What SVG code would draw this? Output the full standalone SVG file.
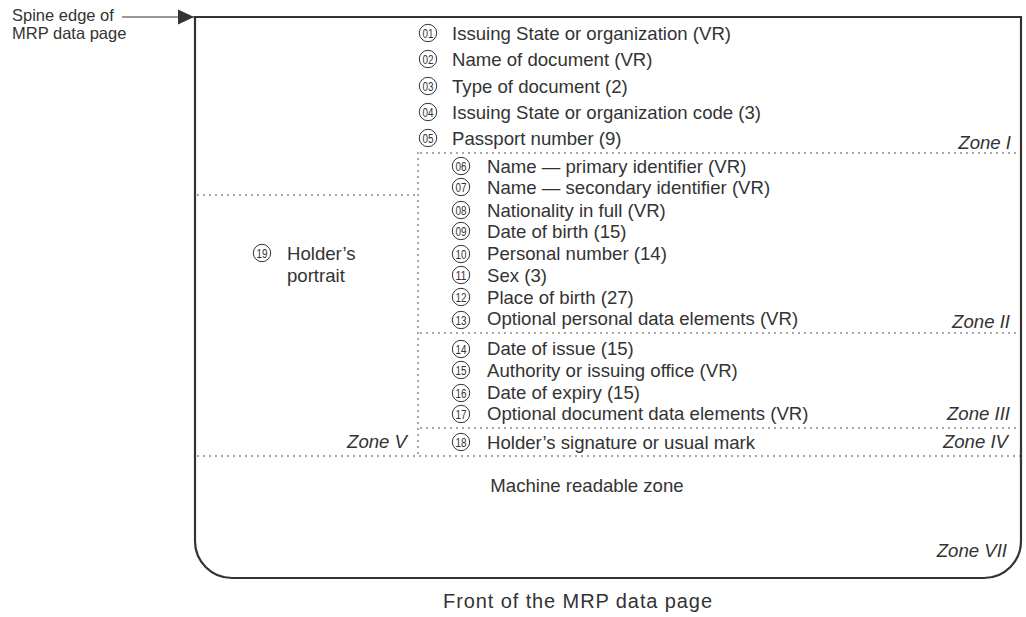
<svg xmlns="http://www.w3.org/2000/svg" width="1026" height="617" viewBox="0 0 1026 617">
<style>
.t{font-family:"Liberation Sans",Arial,sans-serif;font-size:18.6px;fill:#333}
.s{font-family:"Liberation Sans",Arial,sans-serif;font-size:16.5px;fill:#333}
.z{font-family:"Liberation Sans",Arial,sans-serif;font-size:18.6px;font-style:italic;fill:#333;text-anchor:end}
.n{font-family:"Liberation Sans",Arial,sans-serif;font-size:12.5px;fill:#333;text-anchor:middle}
.c{fill:none;stroke:#333;stroke-width:1}
.d{fill:none;stroke:#333;stroke-width:1.6;stroke-dasharray:0 6;stroke-linecap:round}
</style>
<defs>
<marker id="ah" markerWidth="16" markerHeight="16" refX="16" refY="8" orient="auto" markerUnits="userSpaceOnUse">
<polygon points="0,0.5 16,8 0,15.5" fill="#333"/>
</marker>
</defs>
<g id="page">
<path d="M195,17 H1021 V541 A37,37 0 0 1 984,578 H232 A37,37 0 0 1 195,541 Z" fill="#fff" stroke="#333" stroke-width="2.2"/>
</g>
<g id="spine-label">
<text class="s" x="12" y="20.5">Spine edge of</text>
<text class="s" x="12" y="39">MRP data page</text>
</g>
<g id="connectors">
<line x1="122" y1="17" x2="194" y2="17" stroke="#333" stroke-width="1.2" marker-end="url(#ah)"/>
</g>
<g id="zones">
<line class="d" x1="421" y1="153" x2="1021" y2="153"/>
<line class="d" x1="418" y1="153" x2="418" y2="456"/>
<line class="d" x1="198" y1="195" x2="415" y2="195"/>
<line class="d" x1="421" y1="333" x2="1021" y2="333"/>
<line class="d" x1="421" y1="428" x2="1021" y2="428"/>
<line class="d" x1="198" y1="456" x2="1021" y2="456"/>
<text class="z" x="1011" y="149">Zone I</text>
<text class="z" x="1010" y="328">Zone II</text>
<text class="z" x="1010" y="420">Zone III</text>
<text class="z" x="1008" y="448">Zone IV</text>
<text class="z" x="407" y="448">Zone V</text>
<text class="z" x="1007" y="557">Zone VII</text>
</g>
<g id="item01"><circle class="c" cx="428" cy="33" r="8.7"/><text class="n" x="428" y="37.5" textLength="11" lengthAdjust="spacingAndGlyphs">01</text><text class="t" x="452" y="39.5">Issuing State or organization (VR)</text></g>
<g id="item02"><circle class="c" cx="428" cy="59" r="8.7"/><text class="n" x="428" y="63.5" textLength="11" lengthAdjust="spacingAndGlyphs">02</text><text class="t" x="452" y="65.5">Name of document (VR)</text></g>
<g id="item03"><circle class="c" cx="428" cy="86" r="8.7"/><text class="n" x="428" y="90.5" textLength="11" lengthAdjust="spacingAndGlyphs">03</text><text class="t" x="452" y="92.5">Type of document (2)</text></g>
<g id="item04"><circle class="c" cx="428" cy="112" r="8.7"/><text class="n" x="428" y="116.5" textLength="11" lengthAdjust="spacingAndGlyphs">04</text><text class="t" x="452" y="118.5">Issuing State or organization code (3)</text></g>
<g id="item05"><circle class="c" cx="428" cy="138" r="8.7"/><text class="n" x="428" y="142.5" textLength="11" lengthAdjust="spacingAndGlyphs">05</text><text class="t" x="452" y="144.5">Passport number (9)</text></g>
<g id="item06"><circle class="c" cx="461" cy="166" r="8.7"/><text class="n" x="461" y="170.5" textLength="11" lengthAdjust="spacingAndGlyphs">06</text><text class="t" x="487" y="172.5">Name — primary identifier (VR)</text></g>
<g id="item07"><circle class="c" cx="461" cy="187" r="8.7"/><text class="n" x="461" y="191.5" textLength="11" lengthAdjust="spacingAndGlyphs">07</text><text class="t" x="487" y="193.5">Name — secondary identifier (VR)</text></g>
<g id="item08"><circle class="c" cx="461" cy="210" r="8.7"/><text class="n" x="461" y="214.5" textLength="11" lengthAdjust="spacingAndGlyphs">08</text><text class="t" x="487" y="216.5">Nationality in full (VR)</text></g>
<g id="item09"><circle class="c" cx="461" cy="231" r="8.7"/><text class="n" x="461" y="235.5" textLength="11" lengthAdjust="spacingAndGlyphs">09</text><text class="t" x="487" y="237.5">Date of birth (15)</text></g>
<g id="item10"><circle class="c" cx="461" cy="254" r="8.7"/><text class="n" x="461" y="258.5" textLength="11" lengthAdjust="spacingAndGlyphs">10</text><text class="t" x="487" y="259.5">Personal number (14)</text></g>
<g id="item11"><circle class="c" cx="461" cy="275" r="8.7"/><text class="n" x="461" y="279.5" textLength="11" lengthAdjust="spacingAndGlyphs">11</text><text class="t" x="487" y="281.5">Sex (3)</text></g>
<g id="item12"><circle class="c" cx="461" cy="297" r="8.7"/><text class="n" x="461" y="301.5" textLength="11" lengthAdjust="spacingAndGlyphs">12</text><text class="t" x="487" y="303.5">Place of birth (27)</text></g>
<g id="item13"><circle class="c" cx="461" cy="320" r="8.7"/><text class="n" x="461" y="324.5" textLength="11" lengthAdjust="spacingAndGlyphs">13</text><text class="t" x="487" y="324.5">Optional personal data elements (VR)</text></g>
<g id="item14"><circle class="c" cx="461" cy="349" r="8.7"/><text class="n" x="461" y="353.5" textLength="11" lengthAdjust="spacingAndGlyphs">14</text><text class="t" x="487" y="354.5">Date of issue (15)</text></g>
<g id="item15"><circle class="c" cx="461" cy="370" r="8.7"/><text class="n" x="461" y="374.5" textLength="11" lengthAdjust="spacingAndGlyphs">15</text><text class="t" x="487" y="376.5">Authority or issuing office (VR)</text></g>
<g id="item16"><circle class="c" cx="461" cy="393" r="8.7"/><text class="n" x="461" y="397.5" textLength="11" lengthAdjust="spacingAndGlyphs">16</text><text class="t" x="487" y="398.5">Date of expiry (15)</text></g>
<g id="item17"><circle class="c" cx="461" cy="414" r="8.7"/><text class="n" x="461" y="418.5" textLength="11" lengthAdjust="spacingAndGlyphs">17</text><text class="t" x="487" y="419.5">Optional document data elements (VR)</text></g>
<g id="item18"><circle class="c" cx="461" cy="442" r="8.7"/><text class="n" x="461" y="446.5" textLength="11" lengthAdjust="spacingAndGlyphs">18</text><text class="t" x="487" y="448.5">Holder’s signature or usual mark</text></g>
<g id="item19"><circle class="c" cx="262" cy="253" r="8.7"/><text class="n" x="262" y="257.5" textLength="11" lengthAdjust="spacingAndGlyphs">19</text><text class="t" x="287" y="259.5">Holder’s</text><text class="t" x="287" y="281.5">portrait</text></g>
<g id="mrz"><text class="t" x="587" y="492" text-anchor="middle">Machine readable zone</text></g>
<g id="caption"><text class="t" x="578" y="608" text-anchor="middle" style="font-size:20px;letter-spacing:0.9px">Front of the MRP data page</text></g>
</svg>
